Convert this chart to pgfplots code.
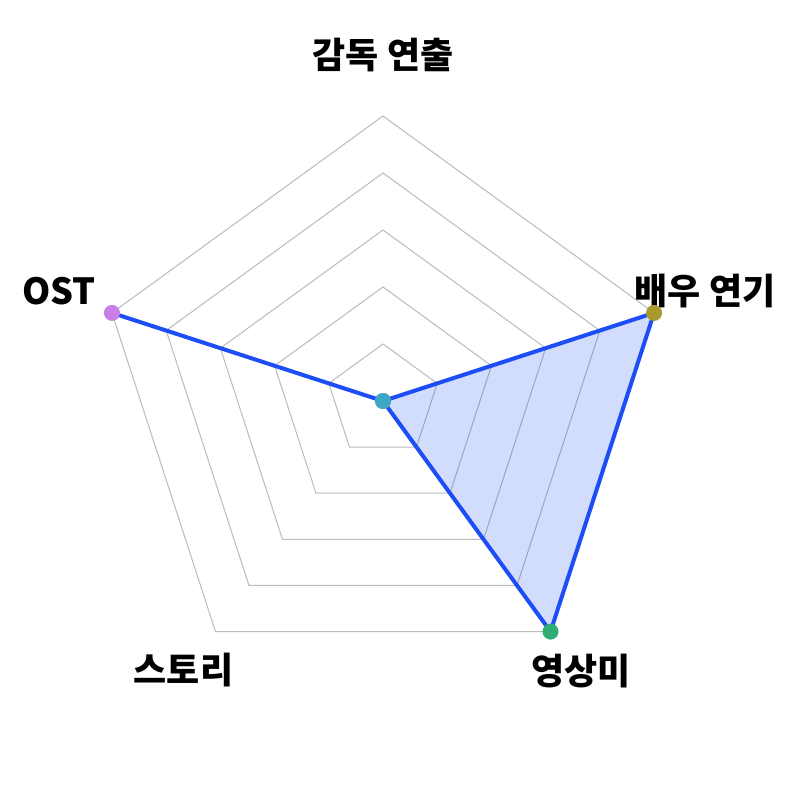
\documentclass[border=0pt]{standalone}
\usepackage{pgfplots}
\usepackage{pgfplotstable}
\pgfplotsset{compat=1.18}
\usepackage{fontspec}
\setmainfont{Noto Sans CJK KR}
\definecolor{lineblue}{HTML}{1D4EF5}
\definecolor{gridgray}{HTML}{BBBBBB}
\definecolor{c1}{HTML}{F77189}
\definecolor{c2}{HTML}{A89A30}
\definecolor{c3}{HTML}{2EAE74}
\definecolor{c4}{HTML}{3BA9C6}
\definecolor{c5}{HTML}{C97EE8}
\pgfplotstableread{
a r
90 0
18 5
-54 5
-126 0
162 5
90 0
}\scores
\pgfplotstableread{
a r
90 1
18 1
-54 1
-126 1
162 1
90 1
}\gridangles
\begin{document}
\begin{tikzpicture}
\begin{axis}[
  hide axis, clip=false,
  x=28.5pt, y=28.5pt,
  xmin=-6.7193, xmax=7.3158, ymin=-7.0, ymax=7.0351,
  scale only axis,
]
\path (rel axis cs:0,0) rectangle (rel axis cs:1,1);
\pgfplotsinvokeforeach{1,2,3,4,5}{
  \addplot[gridgray, line width=0.5pt, no marks] table[x expr={#1*\thisrow{r}*cos(\thisrow{a})}, y expr={#1*\thisrow{r}*sin(\thisrow{a})}] {\gridangles};
}
\addplot[lineblue, line width=2pt, fill=lineblue, fill opacity=0.2, draw opacity=1, no marks, line join=round]
  table[x expr={\thisrow{r}*cos(\thisrow{a})}, y expr={\thisrow{r}*sin(\thisrow{a})}] {\scores} -- cycle;
\addplot[only marks, mark=*, mark size=3.8pt, c1, mark options={draw=none}] table[x expr={\thisrow{r}*cos(\thisrow{a})}, y expr={\thisrow{r}*sin(\thisrow{a})}, skip coords between index={1}{6}] {\scores};
\addplot[only marks, mark=*, mark size=3.8pt, c2, mark options={draw=none}] table[x expr={\thisrow{r}*cos(\thisrow{a})}, y expr={\thisrow{r}*sin(\thisrow{a})}, skip coords between index={0}{1}, skip coords between index={2}{6}] {\scores};
\addplot[only marks, mark=*, mark size=3.8pt, c3, mark options={draw=none}] table[x expr={\thisrow{r}*cos(\thisrow{a})}, y expr={\thisrow{r}*sin(\thisrow{a})}, skip coords between index={0}{2}, skip coords between index={3}{6}] {\scores};
\addplot[only marks, mark=*, mark size=3.8pt, c4, mark options={draw=none}] table[x expr={\thisrow{r}*cos(\thisrow{a})}, y expr={\thisrow{r}*sin(\thisrow{a})}, skip coords between index={0}{3}, skip coords between index={4}{6}] {\scores};
\addplot[only marks, mark=*, mark size=3.8pt, c5, mark options={draw=none}] table[x expr={\thisrow{r}*cos(\thisrow{a})}, y expr={\thisrow{r}*sin(\thisrow{a})}, skip coords between index={0}{4}, skip coords between index={5}{6}] {\scores};
\begin{scope}[every node/.style={font=\fontsize{18pt}{21pt}\selectfont\bfseries, inner sep=0pt}]
\node at (axis cs:0,6.07) {감독 연출};
\node at (axis cs:5.65,1.93) {배우 연기};
\node at (axis cs:3.48,-4.74) {영상미};
\node at (axis cs:-3.50,-4.72) {스토리};
\node at (axis cs:-5.68,1.92) {OST};
\end{scope}
\end{axis}
\end{tikzpicture}
\end{document}
